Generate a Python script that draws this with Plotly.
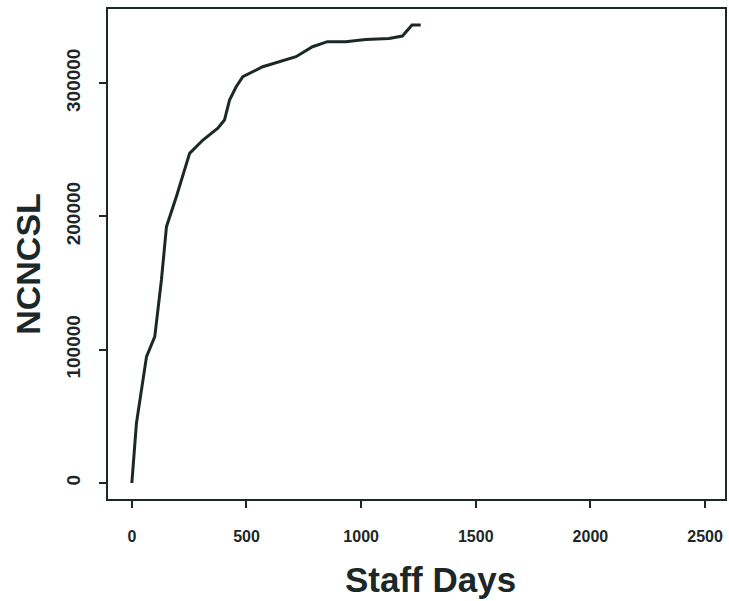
import plotly.graph_objects as go

# Cumulative size (NCNCSL) against cumulative staff effort
staff_days = [0, 20, 64, 100, 129, 151, 194, 252, 310, 375, 404, 426, 455, 484,
              571, 673, 716, 788, 853, 933, 1020, 1122, 1180, 1222, 1260]
ncncsl = [0, 44800, 94800, 109800, 152300, 192300, 214800, 247300, 257300, 266100,
          272300, 287300, 297300, 304800, 312300, 317300, 319800, 327300, 331100,
          331100, 332800, 333500, 335300, 343600, 343600]

x_ticks = [0, 500, 1000, 1500, 2000, 2500]
x_tick_text = ["0", "500", "1000", "1500", "2000", "2500"]
y_ticks = [0, 100000, 200000, 300000]
y_tick_text = ["0", "100000", "200000", "300000"]

ink = "#1c2828"
font_family = "Liberation Sans, Arial, Helvetica, sans-serif"

fig = go.Figure()
fig.add_trace(go.Scatter(
    x=staff_days, y=ncncsl, mode="lines",
    line=dict(color=ink, width=3),
    showlegend=False,
))

axis_common = dict(
    showline=True, mirror=True, linecolor=ink, linewidth=2,
    showgrid=False, zeroline=False,
    ticks="outside", ticklen=7, tickwidth=2, tickcolor=ink,
)

fig.update_xaxes(
    range=[-104, 2587], tickvals=x_ticks, ticktext=x_tick_text,
    tickfont=dict(family=font_family, size=16, color=ink, weight="bold"),
    ticklabelstandoff=15,
    **axis_common,
)
fig.update_yaxes(
    range=[-12000, 355600], tickvals=y_ticks, ticktext=y_tick_text,
    tickangle=-90,
    tickfont=dict(family=font_family, size=19, color=ink, weight="bold"),
    ticklabelstandoff=11,
    **axis_common,
)

fig.update_layout(
    width=729, height=601,
    margin=dict(l=108, r=2, t=9, b=102),
    paper_bgcolor="white", plot_bgcolor="white",
    annotations=[
        dict(text="Staff Days", xref="paper", yref="paper", x=0.523, y=0,
             yshift=-80, xanchor="center", yanchor="middle", showarrow=False,
             font=dict(family=font_family, size=35, color=ink, weight="bold")),
        dict(text="NCNCSL", xref="paper", yref="paper", x=0, y=0.48,
             xshift=-80, textangle=-90, xanchor="center", yanchor="middle",
             showarrow=False,
             font=dict(family=font_family, size=34, color=ink, weight="bold")),
    ],
)

fig.write_html("out.html")
